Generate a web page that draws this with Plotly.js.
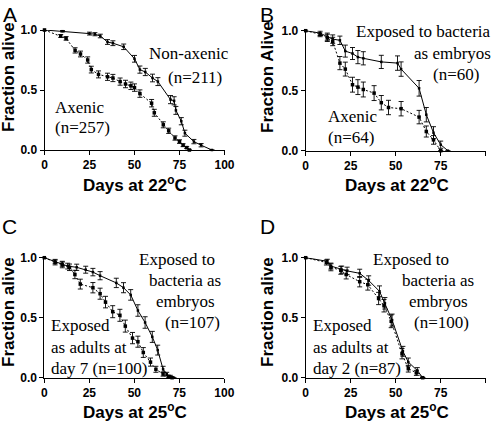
<!DOCTYPE html>
<html><head><meta charset="utf-8">
<script src="https://cdn.plot.ly/plotly-3.0.1.min.js"></script>
<style>html,body{margin:0;padding:0;background:#fff}#chart{width:496px;height:424px}</style>
</head><body><div id="chart"></div>
<script>
// ---- Data ----
const xTicks = [0, 25, 50, 75, 100];
const yTicks = [0, 0.5, 1.0];

// Panel A (22 C)
const aNonAxDays = [0, 10, 25, 28, 31, 35, 38, 44, 50, 53, 56, 60, 63, 70, 72, 73, 76, 78, 83, 87, 93];
const aNonAxFrac = [1.0, 0.99, 0.97, 0.965, 0.95, 0.90, 0.89, 0.86, 0.76, 0.67, 0.65, 0.60, 0.57, 0.42, 0.41, 0.33, 0.24, 0.14, 0.07, 0.04, 0.0];
const aNonAxErr  = [0, 0.006, 0.012, 0.013, 0.015, 0.02, 0.02, 0.023, 0.028, 0.03, 0.03, 0.032, 0.033, 0.034, 0.034, 0.033, 0.03, 0.025, 0.018, 0.014, 0];
const aAxDays = [0, 9, 12, 17, 20, 24, 26, 30, 35, 38, 42, 45, 48, 50, 53, 59.5, 61, 66, 69, 72.5, 75, 77, 79, 80.5];
const aAxFrac = [1.0, 0.95, 0.93, 0.83, 0.80, 0.75, 0.67, 0.63, 0.61, 0.60, 0.57, 0.55, 0.535, 0.52, 0.47, 0.39, 0.31, 0.21, 0.16, 0.10, 0.07, 0.04, 0.02, 0.0];
const aAxErr  = [0, 0.012, 0.015, 0.022, 0.024, 0.026, 0.028, 0.029, 0.03, 0.03, 0.03, 0.031, 0.031, 0.031, 0.031, 0.031, 0.029, 0.025, 0.022, 0.018, 0.015, 0.012, 0.008, 0];

// Panel B (22 C)
const bEmbDays = [0, 8, 12, 15, 19, 22, 26, 29, 32, 42, 51, 53, 63, 67, 71, 75, 79];
const bEmbFrac = [1.0, 0.98, 0.95, 0.93, 0.92, 0.83, 0.81, 0.78, 0.77, 0.74, 0.73, 0.68, 0.52, 0.30, 0.15, 0.05, 0.0];
const bEmbErr  = [0, 0.02, 0.03, 0.035, 0.035, 0.05, 0.05, 0.055, 0.055, 0.055, 0.06, 0.06, 0.065, 0.06, 0.05, 0.03, 0];
const bAxDays = [0, 8, 12, 15, 19, 22, 26, 29, 32, 38, 42, 46, 53, 63, 67, 71, 75];
const bAxFrac = [1.0, 0.97, 0.94, 0.91, 0.73, 0.68, 0.55, 0.53, 0.51, 0.48, 0.40, 0.36, 0.35, 0.28, 0.16, 0.09, 0.0];
const bAxErr  = [0, 0.02, 0.03, 0.035, 0.055, 0.058, 0.062, 0.062, 0.062, 0.062, 0.06, 0.06, 0.06, 0.056, 0.046, 0.036, 0];

// Panel C (25 C)
const cEmbDays = [0, 6, 10, 13, 18, 23, 27, 31, 40, 44, 48, 52, 56, 60, 63, 66, 68, 70, 72];
const cEmbFrac = [1.0, 0.97, 0.95, 0.93, 0.92, 0.90, 0.88, 0.85, 0.79, 0.75, 0.69, 0.56, 0.46, 0.34, 0.23, 0.07, 0.03, 0.01, 0.0];
const cEmbErr  = [0, 0.016, 0.02, 0.024, 0.026, 0.029, 0.031, 0.034, 0.039, 0.042, 0.044, 0.048, 0.048, 0.046, 0.041, 0.025, 0.015, 0.01, 0];
const cAdDays = [0, 6, 10, 14, 17, 20, 27, 31, 34, 38, 42, 45, 49, 52, 55, 59, 62, 66, 69, 71];
const cAdFrac = [1.0, 0.96, 0.94, 0.92, 0.86, 0.78, 0.75, 0.70, 0.63, 0.55, 0.52, 0.43, 0.33, 0.30, 0.21, 0.13, 0.07, 0.03, 0.01, 0.0];
const cAdErr  = [0, 0.02, 0.024, 0.027, 0.035, 0.041, 0.043, 0.046, 0.048, 0.05, 0.05, 0.05, 0.047, 0.046, 0.041, 0.034, 0.025, 0.017, 0.01, 0];

// Panel D (25 C)
const dEmbDays = [0, 12, 14, 20, 23, 30, 35, 41, 44, 48, 54, 57, 62, 65];
const dEmbFrac = [1.0, 0.97, 0.93, 0.90, 0.89, 0.87, 0.81, 0.72, 0.62, 0.48, 0.22, 0.13, 0.06, 0.0];
const dEmbErr  = [0, 0.017, 0.025, 0.03, 0.031, 0.034, 0.039, 0.045, 0.048, 0.05, 0.041, 0.034, 0.024, 0];
const dAdDays = [0, 11.5, 14, 19.5, 22.5, 30, 34.5, 40.5, 43.5, 47.5, 53.5, 57, 61.5, 65];
const dAdFrac = [1.0, 0.96, 0.92, 0.895, 0.86, 0.80, 0.775, 0.66, 0.60, 0.47, 0.20, 0.075, 0.04, 0.0];
const dAdErr  = [0, 0.021, 0.029, 0.033, 0.037, 0.043, 0.045, 0.051, 0.052, 0.053, 0.043, 0.028, 0.021, 0];

// ---- Layout helpers ----
const W = 496, H = 424;
const px = p => p / W;
const py = p => 1 - p / H;
const SANS = 'Liberation Sans';
const SERIF = 'Liberation Serif';

function series(x, y, err, ax, dashed) {
  return {
    x: x, y: y, xaxis: 'x' + ax, yaxis: 'y' + ax, type: 'scatter', mode: 'lines+markers',
    cliponaxis: false, showlegend: false, hoverinfo: 'skip',
    line: {color: '#000', width: 1, dash: dashed ? '2px,2px' : 'solid'},
    marker: {color: '#000', size: dashed ? 3.5 : 2.5, symbol: 'square'},
    error_y: {type: 'data', array: err, visible: true, width: 2.5, thickness: 0.9, color: '#000'}
  };
}

const data = [
  series(aNonAxDays, aNonAxFrac, aNonAxErr, '', false),
  series(aAxDays, aAxFrac, aAxErr, '', true),
  series(bEmbDays, bEmbFrac, bEmbErr, '2', false),
  series(bAxDays, bAxFrac, bAxErr, '2', true),
  series(cEmbDays, cEmbFrac, cEmbErr, '3', false),
  series(cAdDays, cAdFrac, cAdErr, '3', true),
  series(dEmbDays, dEmbFrac, dEmbErr, '4', false),
  series(dAdDays, dAdFrac, dAdErr, '4', true)
];

const panels = [
  {l: 44.5, t: 30, ax: ''},
  {l: 305.7, t: 30.7, ax: '2'},
  {l: 44.3, t: 257.7, ax: '3'},
  {l: 305.7, t: 257.7, ax: '4'}
];

const layout = {
  width: W, height: H, margin: {l: 0, r: 0, t: 0, b: 0},
  paper_bgcolor: '#fff', plot_bgcolor: '#fff', showlegend: false,
  font: {family: SANS, color: '#000'},
  annotations: []
};

const axCommon = {
  showgrid: false, zeroline: false, showline: true, linecolor: '#000', linewidth: 1,
  ticks: 'outside', ticklen: 4, tickwidth: 1, tickcolor: '#000', fixedrange: true,
  tickfont: {family: SANS, size: 12, color: '#000', weight: 700}
};

panels.forEach(p => {
  const xk = 'xaxis' + p.ax, yk = 'yaxis' + p.ax;
  layout[xk] = Object.assign({}, axCommon, {
    domain: [px(p.l), px(p.l + 180)], range: [0, 100], tickvals: xTicks,
    anchor: 'y' + p.ax
  });
  layout[yk] = Object.assign({}, axCommon, {
    domain: [py(p.t + 120), py(p.t)], range: [0, 1], tickvals: yTicks, tickformat: '.1f',
    anchor: 'x' + p.ax
  });
});

function ann(text, xp, yp, opts) {
  layout.annotations.push(Object.assign({
    text: text, xref: 'paper', yref: 'paper', x: px(xp), y: py(yp),
    xanchor: 'center', yanchor: 'middle', showarrow: false,
    font: {family: SERIF, size: 17, color: '#000'}
  }, opts || {}));
}
const letterFont = {family: SANS, size: 21, color: '#000'};
const titleFont = {family: SANS, size: 17, color: '#000', weight: 700};

// panel letters
ann('A', 10, 15, {font: letterFont});
ann('B', 267, 15, {font: letterFont});
ann('C', 9, 227, {font: letterFont});
ann('D', 267, 227, {font: letterFont});

// axis titles
ann('Fraction alive', 8, 77, {font: titleFont, textangle: -90});
ann('Fraction Alive', 267, 77, {font: titleFont, textangle: -90});
ann('Fraction alive', 8, 312, {font: titleFont, textangle: -90});
ann('Fraction alive', 267, 312, {font: titleFont, textangle: -90});
ann('Days at 22<sup>o</sup>C', 135, 184, {font: titleFont});
ann('Days at 22<sup>o</sup>C', 396.5, 184, {font: titleFont});
ann('Days at 25<sup>o</sup>C', 135, 411, {font: titleFont});
ann('Days at 25<sup>o</sup>C', 396.5, 411, {font: titleFont});

// labels A
ann('Non-axenic', 189, 53);
ann('(n=211)', 194.5, 77);
ann('Axenic', 53, 107, {xanchor: 'left'});
ann('(n=257)', 53, 128, {xanchor: 'left'});
// labels B
ann('Exposed to bacteria', 493, 32, {xanchor: 'right'});
ann('as embryos', 493, 53, {xanchor: 'right'});
ann('(n=60)', 481, 74, {xanchor: 'right'});
ann('Axenic', 326, 117, {xanchor: 'left'});
ann('(n=64)', 326, 137, {xanchor: 'left'});
// labels C
ann('Exposed to', 217, 259, {xanchor: 'right'});
ann('bacteria as', 223, 280, {xanchor: 'right'});
ann('embryos', 217, 301, {xanchor: 'right'});
ann('(n=107)', 222, 322, {xanchor: 'right'});
ann('Exposed', 49, 325, {xanchor: 'left'});
ann('as adults at', 49, 347, {xanchor: 'left'});
ann('day 7 (n=100)', 49, 368, {xanchor: 'left'});
// labels D
ann('Exposed to', 451, 259, {xanchor: 'right'});
ann('bacteria as', 476, 280, {xanchor: 'right'});
ann('embryos', 470, 301, {xanchor: 'right'});
ann('(n=100)', 471, 322, {xanchor: 'right'});
ann('Exposed', 311, 325, {xanchor: 'left'});
ann('as adults at', 311, 347, {xanchor: 'left'});
ann('day 2 (n=87)', 311, 368, {xanchor: 'left'});

Plotly.newPlot('chart', data, layout, {displayModeBar: false, staticPlot: true});
</script></body></html>
